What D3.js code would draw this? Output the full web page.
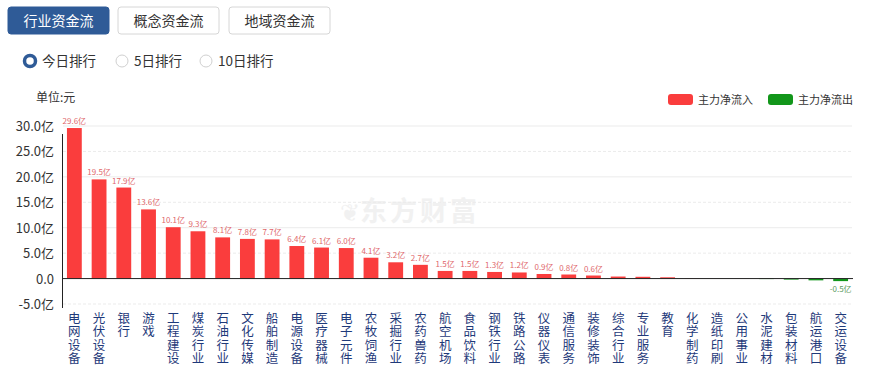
<!DOCTYPE html>
<html lang="zh">
<head>
  <meta charset="UTF-8">
  <title>行业资金流</title>
  <script src="https://d3js.org/d3.v7.min.js"></script>
  <style>
    body { margin: 0; background: #fff; }
    svg { display: block; font-family: "Noto Sans CJK SC", "Noto Sans", sans-serif; }
  </style>
</head>
<body>
<script>
var width = 871, height = 369;

var categories = ["电网设备","光伏设备","银行","游戏","工程建设","煤炭行业","石油行业","文化传媒",
  "船舶制造","电源设备","医疗器械","电子元件","农牧饲渔","采掘行业","农药兽药","航空机场",
  "食品饮料","钢铁行业","铁路公路","仪器仪表","通信服务","装修装饰","综合行业","专业服务",
  "教育","化学制药","造纸印刷","公用事业","水泥建材","包装材料","航运港口","交运设备"];
var values = [29.6, 19.5, 17.9, 13.6, 10.1, 9.3, 8.1, 7.8, 7.7, 6.4, 6.1, 6.0, 4.1, 3.2, 2.7, 1.5,
  1.5, 1.3, 1.2, 0.9, 0.8, 0.6, 0.4, 0.35, 0.25, 0.05, 0.03, 0.02, -0.1, -0.2, -0.35, -0.5];
var yTicks = [-5, 0, 5, 10, 15, 20, 25, 30];
var tabs = ["行业资金流", "概念资金流", "地域资金流"];
var periods = ["今日排行", "5日排行", "10日排行"];
var legendItems = ["主力净流入", "主力净流出"];

var red = "#fa3d3d", green = "#12961a";

var rows = categories.map(function(c, i) { return { name: c, value: values[i] }; });

var svg = d3.select("body").append("svg")
  .attr("width", width).attr("height", height);

// tab buttons
var tabX = [8, 118, 229];
tabs.forEach(function(t, i) {
  var g = svg.append("g").attr("transform", "translate(" + tabX[i] + ",7)");
  g.append("rect").attr("width", 101).attr("height", 27).attr("rx", 3)
    .attr("fill", i == 0 ? "#2f5b97" : "#fff")
    .attr("stroke", i == 0 ? "#2f5b97" : "#d6d6d6");
  g.append("text").text(t).attr("x", 50.5).attr("y", 19)
    .attr("text-anchor", "middle").attr("font-size", 14)
    .attr("fill", i == 0 ? "#fff" : "#333");
});

// radio buttons
var radioX = [30, 122, 206];
periods.forEach(function(p, i) {
  if (i == 0) {
    svg.append("circle").attr("cx", radioX[i]).attr("cy", 61).attr("r", 5.5)
      .attr("fill", "#fff").attr("stroke", "#2f5b97").attr("stroke-width", 3.5);
  } else {
    svg.append("circle").attr("cx", radioX[i]).attr("cy", 61).attr("r", 6)
      .attr("fill", "#fff").attr("stroke", "#d0d0d0");
  }
  svg.append("text").text(p).attr("x", radioX[i] + 12).attr("y", 66)
    .attr("font-size", 13.5).attr("fill", "#333");
});

svg.append("text").text("单位:元").attr("x", 36).attr("y", 102)
  .attr("font-size", 12).attr("fill", "#333");

// legend
legendItems.forEach(function(l, i) {
  var lx = 668 + i * 100;
  svg.append("rect").attr("x", lx).attr("y", 94).attr("width", 25).attr("height", 11)
    .attr("rx", 3).attr("fill", i == 0 ? red : green);
  svg.append("text").text(l).attr("x", lx + 30).attr("y", 104)
    .attr("font-size", 11).attr("fill", "#333");
});

// watermark
svg.append("text").text("东方财富").attr("x", 420).attr("y", 221)
  .attr("text-anchor", "middle").attr("font-size", 27).attr("font-weight", "bold")
  .attr("fill", "#f1f1f1").attr("letter-spacing", 3);
svg.append("text").text("❦").attr("x", 350).attr("y", 221)
  .attr("text-anchor", "middle").attr("font-size", 24).attr("fill", "#f1f1f1");

var x = d3.scaleBand().domain(categories).range([62, 853]).paddingInner(0.4).paddingOuter(0.2);
var y = d3.scaleLinear().domain([-5, 30]).range([304, 126]);

// grid
svg.append("g").selectAll("line").data(yTicks.filter(function(d) { return d != 0; }))
  .enter().append("line")
  .attr("x1", 63).attr("x2", 852)
  .attr("y1", function(d) { return y(d); }).attr("y2", function(d) { return y(d); })
  .attr("stroke", "#ebebeb")
  .attr("stroke-dasharray", function(d) { return d % 10 == 0 ? null : "3,2"; });

// y axis labels
svg.append("g").selectAll("text").data(yTicks).enter().append("text")
  .text(function(d) { return d == 0 ? "0.0" : d.toFixed(1) + "亿"; })
  .attr("x", 54).attr("y", function(d) { return y(d) + 5; })
  .attr("text-anchor", "end").attr("font-size", 13).attr("fill", "#333");

// bars
svg.append("g").selectAll("rect").data(rows).enter().append("rect")
  .attr("x", function(d) { return x(d.name); })
  .attr("y", function(d) { return Math.min(y(d.value), y(0)); })
  .attr("width", x.bandwidth())
  .attr("height", function(d) { return Math.abs(y(d.value) - y(0)); })
  .attr("fill", function(d) { return d.value >= 0 ? red : green; });

// bar value labels (small ones hidden, like the original)
svg.append("g").selectAll("text")
  .data(rows.filter(function(d) { return Math.abs(d.value) >= 0.5; }))
  .enter().append("text")
  .text(function(d) { return d.value.toFixed(1) + "亿"; })
  .attr("x", function(d) { return x(d.name) + x.bandwidth() / 2; })
  .attr("y", function(d) { return d.value >= 0 ? y(d.value) - 4 : y(0) + 13; })
  .attr("text-anchor", "middle").attr("font-size", 8)
  .attr("fill", function(d) { return d.value >= 0 ? "#e0686c" : "#5c9a5c"; });

// axes
svg.append("line").attr("x1", 62.5).attr("x2", 62.5).attr("y1", 134).attr("y2", 308)
  .attr("stroke", "#222");
svg.append("line").attr("x1", 62).attr("x2", 853).attr("y1", y(0)).attr("y2", y(0))
  .attr("stroke", "#222");

// vertical x labels
svg.append("g").selectAll("text").data(categories).enter().append("text")
  .text(function(d) { return d; })
  .attr("x", function(d) { return x(d) + x.bandwidth() / 2; })
  .attr("y", 312)
  .style("writing-mode", "vertical-rl")
  .attr("letter-spacing", 0.8)
  .attr("font-size", 12.5).attr("fill", "#1f3a7a");
</script>
</body>
</html>
